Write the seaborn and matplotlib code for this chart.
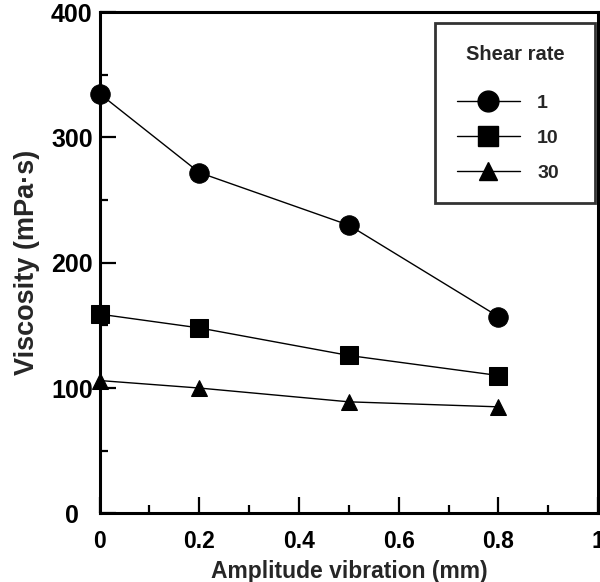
import numpy as np
import pandas as pd
import matplotlib
matplotlib.use("Agg")
import matplotlib.pyplot as plt
from matplotlib.lines import Line2D
from matplotlib.ticker import MultipleLocator
import seaborn as sns

# Viscosity vs vibration amplitude at three shear rates
amplitude = [0.0, 0.2, 0.5, 0.8]
shear_rates = ["1", "10", "30"]
visc_rate_1 = [335, 272, 230, 157]
visc_rate_10 = [159, 148, 126, 110]
visc_rate_30 = [106, 100, 89, 85]
x_tick_labels = ["0", "0.2", "0.4", "0.6", "0.8", "1"]
y_tick_labels = ["0  ", "100", "200", "300", "400"]

df = pd.DataFrame({
    "Amplitude": amplitude * 3,
    "Viscosity": visc_rate_1 + visc_rate_10 + visc_rate_30,
    "Shear rate": [r for r in shear_rates for _ in amplitude],
})

sns.set_theme(style="ticks")
plt.rcParams["font.family"] = ["Liberation Sans", "DejaVu Sans"]
plt.rcParams["font.weight"] = "bold"

fig, ax = plt.subplots(figsize=(6.0, 5.82), dpi=100)
fig.subplots_adjust(left=0.166, right=0.997, top=0.979, bottom=0.118)

markers = {"1": "o", "10": "s", "30": "^"}
sizes_ms = {"1": 14, "10": 13, "30": 12}
for rate in shear_rates:
    sub = df[df["Shear rate"] == rate]
    sns.lineplot(data=sub, x="Amplitude", y="Viscosity", ax=ax,
                 color="black", linewidth=1.0, marker=markers[rate],
                 markersize=sizes_ms[rate], markeredgecolor="black",
                 markerfacecolor="black", clip_on=False, legend=False)

ax.set_xlim(0, 1)
ax.set_ylim(0, 400)
ax.xaxis.set_minor_locator(MultipleLocator(0.1))
ax.yaxis.set_minor_locator(MultipleLocator(50))
ax.set_xticks([0, 0.2, 0.4, 0.6, 0.8, 1.0])
ax.set_xticklabels(x_tick_labels)
ax.set_yticks([0, 100, 200, 300, 400])
ax.set_yticklabels(y_tick_labels)
ax.tick_params(axis="both", which="major", direction="in", length=11.5,
               width=1.6, color="black", labelcolor="black")
ax.tick_params(axis="both", which="minor", direction="in", length=6,
               width=1.6, color="black")
ax.tick_params(axis="x", which="major", labelsize=16.5, pad=12)
ax.tick_params(axis="y", which="major", labelsize=18, pad=5)
for lbl in ax.get_xticklabels() + ax.get_yticklabels():
    lbl.set_fontweight("bold")

for sp in ax.spines.values():
    sp.set_visible(True)
    sp.set_linewidth(2.2)
    sp.set_color("black")

ax.set_xlabel("Amplitude vibration (mm)", fontsize=16.5, fontweight="bold",
              labelpad=5)
ax.set_ylabel("Viscosity (mPa·s)", fontsize=19.5, fontweight="bold",
              labelpad=8)

handles = [Line2D([0], [0], color="black", linewidth=1.0, marker=markers[r],
                  markersize=sizes_ms[r] + 1, markerfacecolor="black",
                  markeredgecolor="black") for r in shear_rates]
leg = ax.legend(handles, shear_rates, title="Shear rate", loc="upper left",
                bbox_to_anchor=(0.673, 0.978, 0.321, 0.0), mode="expand",
                frameon=True, fancybox=False, edgecolor="black",
                fontsize=14, title_fontsize=14.5,
                handlelength=3.25, handletextpad=0.9, labelspacing=0.9,
                borderpad=1.1, borderaxespad=0)
leg.get_frame().set_linewidth(2.0)
leg.get_title().set_fontweight("bold")
for t in leg.get_texts():
    t.set_fontweight("bold")
# extra gap between the legend title and its entries
leg._legend_box.sep = 22

fig.savefig("out.png", dpi=100, facecolor="white")
